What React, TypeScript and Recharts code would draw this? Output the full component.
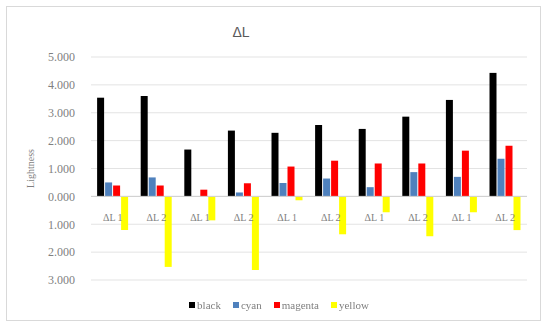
import { BarChart, Bar, XAxis, YAxis, CartesianGrid, ReferenceLine, Label } from "recharts";

const CATEGORIES = ["ΔL 1", "ΔL 2", "ΔL 1", "ΔL 2", "ΔL 1", "ΔL 2", "ΔL 1", "ΔL 2", "ΔL 1", "ΔL 2"];
const BLACK = [3.54, 3.6, 1.68, 2.36, 2.28, 2.56, 2.42, 2.86, 3.46, 4.43];
const CYAN = [0.5, 0.68, 0, 0.14, 0.48, 0.64, 0.33, 0.87, 0.7, 1.35];
const MAGENTA = [0.39, 0.39, 0.24, 0.47, 1.07, 1.28, 1.18, 1.18, 1.64, 1.82];
const YELLOW = [-1.21, -2.53, -0.86, -2.64, -0.14, -1.36, -0.57, -1.43, -0.57, -1.21];
const Y_TICKS = [-3, -2, -1, 0, 1, 2, 3, 4, 5];

const SERIES = [
  { key: "black", name: "black", color: "#000000" },
  { key: "cyan", name: "cyan", color: "#4f81bd" },
  { key: "magenta", name: "magenta", color: "#ff0000" },
  { key: "yellow", name: "yellow", color: "#ffff00" },
];

const data = CATEGORIES.map((name, i) => ({
  name,
  black: BLACK[i],
  cyan: CYAN[i],
  magenta: MAGENTA[i],
  yellow: YELLOW[i],
}));

const W = 543;
const H = 323;
const TOP = 57;
const BOTTOM = 43;
const X_AXIS_H = 20;
const PLOT_H = H - TOP - BOTTOM;
// distance from plot bottom up to the zero line
const ZERO_UP = (PLOT_H * (0 - Y_TICKS[0])) / (Y_TICKS[Y_TICKS.length - 1] - Y_TICKS[0]);

const FONT = "'Liberation Serif', serif";

// category labels sit just under the zero line, like Excel's "next to axis"
function CategoryTick(props: any) {
  const { x, payload } = props;
  const axisTop = H - BOTTOM;
  return (
    <text x={x} y={axisTop - ZERO_UP + 21} textAnchor="middle" dy="0.35em" fill="#7f7f7f" fontSize={10} fontFamily={FONT}>
      {payload.value}
    </text>
  );
}

export default function App() {
  return (
    <div style={{ position: "fixed", left: 0, top: 0, width: W, height: H, background: "#fff" }}>
      <div
        style={{
          position: "absolute",
          left: 6,
          top: 6,
          width: 533,
          height: 313,
          border: "1px solid #d9d9d9",
        }}
      />
      <div
        style={{
          position: "absolute",
          left: 221,
          top: 24,
          width: 40,
          textAlign: "center",
          fontFamily: "'Liberation Sans', sans-serif",
          fontSize: 14,
          color: "#595959",
        }}
      >
        ΔL
      </div>
      <BarChart
        width={W}
        height={H}
        data={data}
        margin={{ top: TOP, right: 16, bottom: BOTTOM - X_AXIS_H, left: 0 }}
        barCategoryGap="14%"
        barGap={1}
        style={{ position: "absolute", left: 0, top: 0 }}
      >
        <CartesianGrid vertical={false} stroke="#e3e3e3" />
        <XAxis
          dataKey="name"
          axisLine={false}
          tickLine={false}
          height={X_AXIS_H}
          tick={<CategoryTick />}
          interval={0}
        />
        <YAxis
          width={91}
          domain={[Y_TICKS[0], Y_TICKS[Y_TICKS.length - 1]]}
          ticks={Y_TICKS}
          axisLine={false}
          tickLine={false}
          tickMargin={10}
          tickFormatter={(v: number) => Math.abs(v).toFixed(3)}
          tick={{ fill: "#7f7f7f", fontSize: 12, fontFamily: FONT }}
        >
          <Label
            value="Lightness"
            angle={-90}
            position="insideLeft"
            offset={30}
            style={{ textAnchor: "middle", fill: "#7f7f7f", fontSize: 10, fontFamily: FONT }}
          />
        </YAxis>
        <ReferenceLine y={0} stroke="#d0d0d0" />
        {SERIES.map((s) => (
          <Bar key={s.key} dataKey={s.key} name={s.name} fill={s.color} isAnimationActive={false} />
        ))}
      </BarChart>
      {/* Legend */}
      <div
        style={{
          position: "absolute",
          left: 0,
          top: 299,
          width: 558,
          display: "flex",
          justifyContent: "center",
          gap: 12,
          fontFamily: FONT,
          fontSize: 11,
          color: "#7f7f7f",
        }}
      >
        {SERIES.map((s) => (
          <div key={s.key} style={{ display: "flex", alignItems: "center", gap: 2 }}>
            <div style={{ width: 6, height: 6, background: s.color }} />
            <span>{s.name}</span>
          </div>
        ))}
      </div>
    </div>
  );
}
